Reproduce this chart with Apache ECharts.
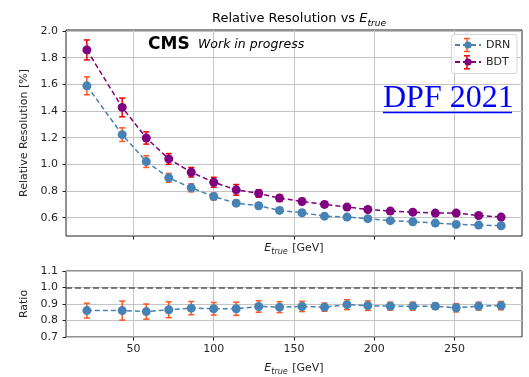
<!DOCTYPE html>
<html><head><meta charset="utf-8">
<script src="https://cdn.jsdelivr.net/npm/echarts@6/dist/echarts.min.js"></script>
<style>html,body{margin:0;padding:0;background:#fff}#c{width:529px;height:377px}</style>
</head><body><div id="c"></div>
<script>
const energy = [21,43,58,72,86,100,114,128,141,155,169,183,196,210,224,238,251,265,279];
const drnRes = [1.589,1.223,1.021,0.899,0.824,0.759,0.709,0.690,0.655,0.637,0.612,0.605,0.593,0.578,0.570,0.560,0.550,0.545,0.540];
const drnErr = [0.067,0.051,0.044,0.033,0.030,0.025,0.022,0.020,0.018,0.016,0.015,0.014,0.013,0.012,0.012,0.011,0.011,0.011,0.011];
const bdtRes = [1.858,1.427,1.198,1.041,0.941,0.866,0.809,0.782,0.747,0.722,0.700,0.680,0.662,0.650,0.642,0.635,0.635,0.617,0.605];
const bdtErr = [0.075,0.070,0.046,0.040,0.036,0.037,0.040,0.028,0.025,0.022,0.020,0.018,0.017,0.016,0.015,0.015,0.015,0.015,0.015];
const ratio = [0.860,0.860,0.854,0.865,0.875,0.871,0.871,0.885,0.881,0.885,0.881,0.896,0.890,0.887,0.887,0.887,0.877,0.887,0.890];
const ratioErr = [0.045,0.058,0.046,0.048,0.040,0.038,0.040,0.035,0.033,0.031,0.025,0.030,0.029,0.024,0.024,0.019,0.025,0.024,0.025];
const xTicks = [50,100,150,200,250];
const resTicks = [0.6,0.8,1.0,1.2,1.4,1.6,1.8,2.0];
const ratioTicks = [0.7,0.8,0.9,1.0,1.1];

const FONT = 'DejaVu Sans';
const TXT = '#262626';
const DRN_C = '#4682b4', BDT_C = '#800080', DRN_ERR = '#ff5722', BDT_ERR = '#ee0000';
const pts = (ys) => energy.map((x, i) => [x, ys[i]]);
const errPts = (ys, es) => energy.map((x, i) => [x, ys[i], es[i]]);

function errRender(color) {
  return function (params, api) {
    const x = api.value(0), y = api.value(1), e = api.value(2);
    const lo = api.coord([x, y - e]), hi = api.coord([x, y + e]);
    const st = { stroke: color, lineWidth: 1.5 };
    return { type: 'group', children: [
      { type: 'line', shape: { x1: lo[0], y1: lo[1], x2: hi[0], y2: hi[1] }, style: st },
      { type: 'line', shape: { x1: lo[0] - 3, y1: lo[1], x2: lo[0] + 3, y2: lo[1] }, style: st },
      { type: 'line', shape: { x1: hi[0] - 3, y1: hi[1], x2: hi[0] + 3, y2: hi[1] }, style: st }
    ]};
  };
}

function legendErr(cx, cy, color) {
  const st = { stroke: color, lineWidth: 1.5 };
  return [
    { type: 'line', shape: { x1: cx, y1: cy - 6.5, x2: cx, y2: cy + 6.5 }, style: st, z: 2 },
    { type: 'line', shape: { x1: cx - 3, y1: cy - 6.5, x2: cx + 3, y2: cy - 6.5 }, style: st, z: 2 },
    { type: 'line', shape: { x1: cx - 3, y1: cy + 6.5, x2: cx + 3, y2: cy + 6.5 }, style: st, z: 2 }
  ];
}

const eTrueRich = {
  e: { fontFamily: FONT, fontSize: 11, fontStyle: 'italic', color: TXT, lineHeight: 16, verticalAlign: 'middle' },
  s: { fontFamily: FONT, fontSize: 8, fontStyle: 'italic', color: TXT, lineHeight: 16, verticalAlign: 'bottom', padding: [0, 1, 0, 0] },
  n: { fontFamily: FONT, fontSize: 11, color: TXT, lineHeight: 16, verticalAlign: 'middle' }
};

function xAxisCommon(gridIndex, showLabels, nameGap) {
  return {
    type: 'value', gridIndex, min: 8, max: 292, minInterval: 50, maxInterval: 50,
    axisLine: { show: false },
    axisTick: { show: true, inside: false, length: 3.5, lineStyle: { color: '#222', width: 1 }, customValues: xTicks },
    axisLabel: { show: showLabels, customValues: xTicks, fontFamily: FONT, fontSize: 11, color: TXT, margin: 7 },
    splitLine: { show: true, lineStyle: { color: '#c4c4c4', width: 1 } },
    name: '{e|E}{s|true}{n| [GeV]}', nameLocation: 'middle', nameGap,
    nameTextStyle: { rich: eTrueRich }
  };
}

const chart = echarts.init(document.getElementById('c'), null, { renderer: 'canvas' });
chart.setOption({
  animation: false,
  backgroundColor: '#fff',
  title: {
    text: 'Relative Resolution vs {e|E}{s|true}',
    left: 294, top: 5, textAlign: 'center',
    textStyle: { fontFamily: FONT, fontSize: 13, fontWeight: 'normal', color: '#000',
      rich: {
        e: { fontFamily: FONT, fontSize: 13, fontStyle: 'italic', color: '#000', lineHeight: 18, verticalAlign: 'middle' },
        s: { fontFamily: FONT, fontSize: 9, fontStyle: 'italic', color: '#000', lineHeight: 18, verticalAlign: 'bottom' }
      } }
  },
  grid: [
    { left: 66, right: 7, top: 30, height: 206, show: true, borderColor: '#222', borderWidth: 1, backgroundColor: 'transparent' },
    { left: 66, right: 7, top: 271, height: 69, show: true, borderColor: '#222', borderWidth: 1, backgroundColor: 'transparent' }
  ],
  xAxis: [ xAxisCommon(0, false, 4), xAxisCommon(1, true, 23) ],
  yAxis: [
    { type: 'value', gridIndex: 0, min: 0.463, max: 2.0075, minInterval: 0.2, maxInterval: 0.2,
      axisLine: { show: false },
      axisTick: { show: true, length: 3.5, lineStyle: { color: '#222' }, customValues: resTicks },
      axisLabel: { customValues: resTicks, fontFamily: FONT, fontSize: 11, color: TXT, margin: 8, formatter: v => v.toFixed(1) },
      splitLine: { show: true, lineStyle: { color: '#c4c4c4', width: 1 } },
      name: 'Relative Resolution [%]', nameLocation: 'middle', nameGap: 27,
      nameTextStyle: { fontFamily: FONT, fontSize: 11, color: TXT } },
    { type: 'value', gridIndex: 1, min: 0.7, max: 1.1, interval: 0.1,
      axisLine: { show: false },
      axisTick: { show: true, length: 3.5, lineStyle: { color: '#222' }, customValues: ratioTicks },
      axisLabel: { customValues: ratioTicks, fontFamily: FONT, fontSize: 11, color: TXT, margin: 8, formatter: v => v.toFixed(1) },
      splitLine: { show: true, lineStyle: { color: '#c4c4c4', width: 1 } },
      name: 'Ratio', nameLocation: 'middle', nameGap: 27,
      nameTextStyle: { fontFamily: FONT, fontSize: 11, color: TXT } }
  ],
  legend: {
    data: ['DRN', 'BDT'], orient: 'vertical', left: 454, top: 38.5, padding: 0,
    itemWidth: 26, itemHeight: 9, itemGap: 4,
    textStyle: { fontFamily: FONT, fontSize: 11, color: TXT, lineHeight: 13 }, z: 10
  },
  graphic: [
    { type: 'rect', shape: { x: 451.5, y: 34.5, width: 65.5, height: 39, r: 3 }, style: { fill: 'rgba(255,255,255,0.8)', stroke: '#d6d6d6', lineWidth: 1 }, z: 1 },
    ...legendErr(467, 45, DRN_ERR),
    ...legendErr(467, 62.3, BDT_ERR),
    { type: 'text', left: 148, top: 36, style: { text: 'CMS', font: 'bold 17px "DejaVu Sans"', fill: '#000' }, z: 5 },
    { type: 'text', left: 198, top: 38, style: { text: 'Work in progress', font: 'italic 12.5px "DejaVu Sans"', fill: '#000' }, z: 5 },
    { type: 'text', left: 383, top: 83, style: { text: 'DPF 2021', font: '32px "Liberation Serif"', fill: '#0000ff' }, z: 5 },
    { type: 'line', shape: { x1: 383, y1: 112.5, x2: 512, y2: 112.5 }, style: { stroke: '#0000ff', lineWidth: 1.5 }, z: 5 }
  ],
  series: [
    { name: 'DRN err', type: 'custom', xAxisIndex: 0, yAxisIndex: 0, data: errPts(drnRes, drnErr), renderItem: errRender(DRN_ERR), encode: { x: 0, y: 1 }, z: 2, silent: true },
    { name: 'BDT err', type: 'custom', xAxisIndex: 0, yAxisIndex: 0, data: errPts(bdtRes, bdtErr), renderItem: errRender(BDT_ERR), encode: { x: 0, y: 1 }, z: 2, silent: true },
    { name: 'DRN', type: 'line', xAxisIndex: 0, yAxisIndex: 0, data: pts(drnRes), color: DRN_C,
      symbol: 'circle', symbolSize: 9, showAllSymbol: true,
      lineStyle: { color: DRN_C, width: 1.5, type: [5, 3] }, itemStyle: { color: DRN_C }, z: 3 },
    { name: 'BDT', type: 'line', xAxisIndex: 0, yAxisIndex: 0, data: pts(bdtRes), color: BDT_C,
      symbol: 'circle', symbolSize: 9, showAllSymbol: true,
      lineStyle: { color: BDT_C, width: 1.5, type: [5, 3] }, itemStyle: { color: BDT_C }, z: 3 },
    { name: 'Ratio err', type: 'custom', xAxisIndex: 1, yAxisIndex: 1, data: errPts(ratio, ratioErr), renderItem: errRender(DRN_ERR), encode: { x: 0, y: 1 }, z: 2, silent: true },
    { name: 'Ratio', type: 'line', xAxisIndex: 1, yAxisIndex: 1, data: pts(ratio), color: DRN_C,
      symbol: 'circle', symbolSize: 9, showAllSymbol: true,
      lineStyle: { color: DRN_C, width: 1.5, type: [5, 3] }, itemStyle: { color: DRN_C }, z: 3,
      markLine: { silent: true, symbol: 'none', label: { show: false },
        lineStyle: { color: '#555', width: 1.5, type: [6, 3] }, data: [{ yAxis: 1.0 }] } }
  ]
});
</script>
</body></html>
